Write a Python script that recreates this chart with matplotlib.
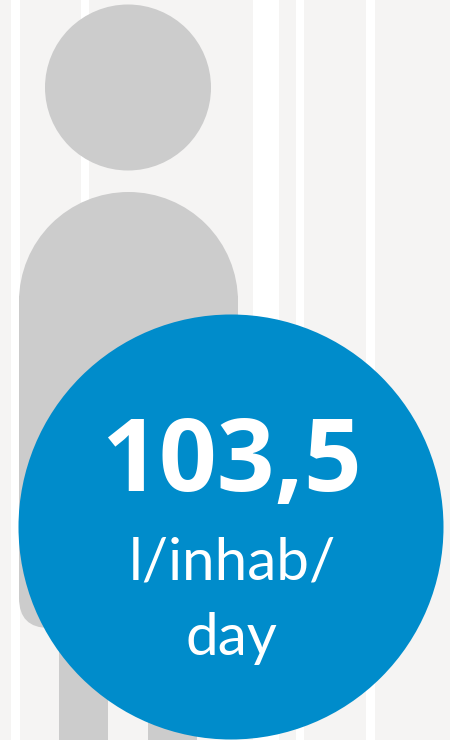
import matplotlib
matplotlib.use('Agg')
import matplotlib.pyplot as plt
from matplotlib.patches import Circle, FancyBboxPatch, Rectangle, Wedge

value_label = "103,5"
unit_lines = ["l/inhab/", "day"]

# white stripes behind the figure (left, width) in px
stripes = [(11, 9), (81, 8), (253, 26), (296, 8), (366, 9)]

bg = "#f5f4f3"
grey = "#cccccc"
blue = "#008ccb"

fig = plt.figure(figsize=(4.5, 7.4), dpi=100, facecolor=bg)
ax = fig.add_axes([0, 0, 1, 1])
ax.set_xlim(0, 450)
ax.set_ylim(740, 0)
ax.axis('off')

for left, width in stripes:
    ax.add_patch(Rectangle((left, 0), width, 740, fc="white", ec="none", zorder=1))

# person
ax.add_patch(Circle((128, 87.5), 83, fc=grey, ec="none", zorder=2))
ax.add_patch(Wedge((128.5, 301.5), 109.5, 180, 360, fc=grey, ec="none", zorder=2))
ax.add_patch(FancyBboxPatch((19 + 30, 290 + 30), 219 - 60, 338 - 60,
                            boxstyle="round,pad=30,rounding_size=30",
                            fc=grey, ec="none", zorder=2))
ax.add_patch(Rectangle((19, 296), 219, 40, fc=grey, ec="none", zorder=2))
ax.add_patch(Rectangle((59, 600), 49, 140, fc=grey, ec="none", zorder=2))
ax.add_patch(Rectangle((148, 600), 49, 140, fc=grey, ec="none", zorder=2))

# blue bubble
ax.add_patch(Circle((231, 527), 212.5, fc=blue, ec="none", zorder=3))

ax.text(231, 490.5, value_label, color="white", fontsize=73, fontweight="bold",
        family="Open Sans", ha="center", va="baseline", zorder=4)
ax.text(232, 580, unit_lines[0], color="white", fontsize=42,
        family="Lato", ha="center", va="baseline", zorder=4)
ax.text(231.5, 655, unit_lines[1], color="white", fontsize=42,
        family="Lato", ha="center", va="baseline", zorder=4)

fig.savefig("out.png", dpi=100, facecolor=bg)
